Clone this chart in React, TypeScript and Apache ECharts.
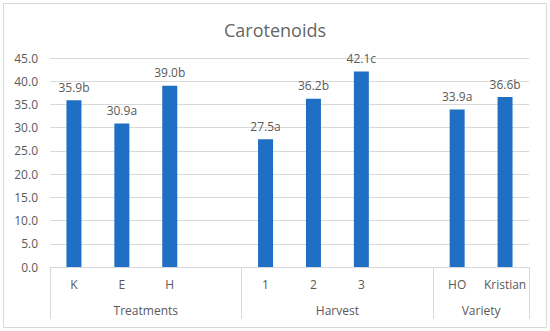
import React, { useEffect, useRef } from "react";
import * as echarts from "echarts";

const categories = ["K", "E", "H", "", "1", "2", "3", "", "HO", "Kristian"];
const values: (number | null)[] = [35.9, 30.9, 39.0, null, 27.5, 36.2, 42.1, null, 33.9, 36.6];
const letters = ["b", "a", "b", "", "a", "b", "c", "", "a", "b"];
const groupNames = ["Treatments", "Harvest", "Variety"];
const groupCenters = [2, 6, 9];
const groupBounds = [0, 4, 8, 10];
const yTicks = [0, 5, 10, 15, 20, 25, 30, 35, 40, 45];

const FONT = "'Open Sans', sans-serif";
const TXT = "#595959";
const LINE = "#d9d9d9";

export default function App() {
  const ref = useRef<HTMLDivElement>(null);
  useEffect(() => {
    if (!ref.current) return;
    const chart = echarts.init(ref.current, undefined, { renderer: "svg" });
    chart.setOption({
      animation: false,
      backgroundColor: "#ffffff",
      textStyle: { fontFamily: FONT },
      title: {
        text: "Carotenoids",
        left: "center",
        top: 16,
        textStyle: { fontFamily: FONT, fontSize: 18, fontWeight: "normal", color: "#666666" },
      },
      graphic: [
        {
          type: "rect",
          shape: { x: 3.5, y: 3.5, width: 543, height: 324 },
          style: { fill: "none", stroke: LINE, lineWidth: 1 },
          silent: true,
        },
      ],
      grid: { left: 50, right: 21, top: 58, bottom: 64 },
      xAxis: [
        {
          type: "category",
          data: categories,
          position: "bottom",
          axisLine: { show: true, lineStyle: { color: LINE } },
          axisTick: { show: false },
          axisLabel: { color: TXT, fontSize: 12, margin: 11, fontFamily: FONT, interval: 0 },
          splitLine: { show: false },
        },
        {
          type: "value",
          min: 0,
          max: 10,
          position: "bottom",
          axisLine: { show: false },
          axisTick: {
            show: true,
            customValues: groupBounds,
            length: 52,
            lineStyle: { color: LINE },
          },
          axisLabel: {
            show: true,
            customValues: groupCenters,
            formatter: (v: number) => {
              const i = groupCenters.indexOf(v);
              return i >= 0 ? groupNames[i] : "";
            },
            color: TXT,
            fontSize: 12,
            margin: 37,
            fontFamily: FONT,
          },
          splitLine: { show: false },
        },
      ],
      yAxis: {
        type: "value",
        min: yTicks[0],
        max: yTicks[yTicks.length - 1],
        interval: 5,
        axisLine: { show: false },
        axisTick: { show: false },
        axisLabel: {
          color: TXT,
          fontSize: 12,
          margin: 12,
          fontFamily: FONT,
          formatter: (v: number) => v.toFixed(1),
        },
        splitLine: { lineStyle: { color: LINE } },
      },
      series: [
        {
          type: "bar",
          xAxisIndex: 0,
          data: values,
          barWidth: 15,
          itemStyle: { color: "#1f6fc5" },
          label: {
            show: true,
            position: "top",
            distance: 7,
            color: TXT,
            fontSize: 12,
            fontFamily: FONT,
            formatter: (p: any) =>
              p.value == null ? "" : Number(p.value).toFixed(1) + letters[p.dataIndex],
          },
        },
      ],
    });
    return () => chart.dispose();
  }, []);
  return (
    <div
      ref={ref}
      style={{ position: "fixed", left: 0, top: 0, width: 550, height: 331 }}
    />
  );
}
